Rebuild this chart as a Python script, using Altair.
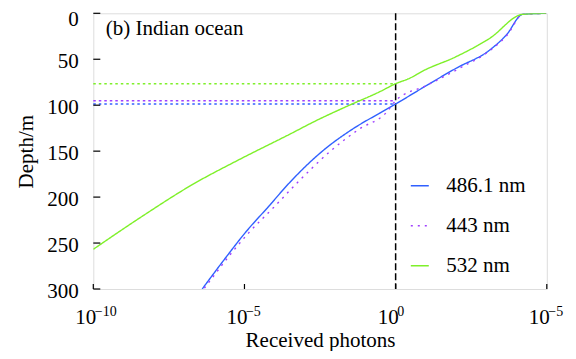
import altair as alt
import pandas as pd

FONT = "Liberation Serif"

series_names = ["486.1 nm", "443 nm", "532 nm"]
series_colors = ["#3060ff", "#a040ff", "#7ff02a"]

blue_depth = [0, 1.1, 23.6, 39.9, 59.8, 81.0, 98.7, 108.0, 125.9, 149.6, 183.8, 210.4, 238.9, 263.0, 300.0]
blue_photons = [9.5e4, 1.6e4, 4.6e3, 1.3e3, 1.0e2, 7.9, 1.0, 0.32, 3.8e-2, 3.9e-3, 3.2e-4, 6.2e-5, 1.05e-5, 2.8e-6, 4.0e-7]

purple_depth = [0, 1.1, 23.6, 39.9, 59.8, 78.5, 95.1, 108.0, 125.9, 149.6, 183.8, 210.4, 238.9, 263.0, 294.0, 300.0]
purple_photons = [9.5e4, 1.6e4, 4.9e3, 1.4e3, 1.3e2, 10.5, 1.0, 0.49, 6.3e-2, 7.2e-3, 5.8e-4, 9.8e-5, 1.38e-5, 3.3e-6, 6.2e-7, 4.5e-7]

green_depth = [0, 1.1, 27.2, 47.2, 62.8, 70.7, 76.6, 85.3, 101.6, 118.3, 130.6, 157.8, 186.8, 221.0, 256.8]
green_photons = [9.5e4, 1.6e4, 1.3e3, 1.0e2, 7.9, 2.9, 1.0, 0.30, 2.3e-2, 1.9e-3, 3.6e-4, 8.1e-6, 1.8e-7, 4.1e-9, 1.0e-10]

# depth where each curve reaches 1 photon (horizontal dotted guides)
threshold_depths = [98.7, 95.1, 76.6]
threshold_x_start = 1e-10
threshold_x_end = 1.0
vertical_line_x = [1.0]

x_tick_values = [1e-10, 1e-5, 1.0, 1e5]
x_tick_exponents = ["\u221210", "\u22125", "0", "\u22125"]
y_tick_values = [0, 50, 100, 150, 200, 250, 300]

annotation_text = ["(b) Indian ocean"]
annotation_x = [2.6e-10]
annotation_depth = [23.6]

W, H = 453.5, 275.7

rows = []
for name, ds, ps in [
    (series_names[0], blue_depth, blue_photons),
    (series_names[1], purple_depth, purple_photons),
    (series_names[2], green_depth, green_photons),
]:
    for i, (d, p) in enumerate(zip(ds, ps)):
        rows.append({"series": name, "depth": d, "photons": p, "idx": i})
curves = pd.DataFrame(rows)

thr = pd.DataFrame({
    "series": series_names,
    "depth": threshold_depths,
    "x1": [threshold_x_start] * 3,
    "x2": [threshold_x_end] * 3,
})

xscale = alt.Scale(type="log", domain=[1e-10, 1e5], nice=False)
yscale = alt.Scale(domain=[0, 300], reverse=True, nice=False)
cscale = alt.Scale(domain=series_names, range=series_colors)
dscale = alt.Scale(domain=series_names, range=[[1, 0], [2, 5], [1, 0]])

x_axis = alt.Axis(
    values=x_tick_values, labelExpr="'10'", ticks=False, domain=False, grid=False,
    labelFlush=False, labelOverlap=False, labelPadding=17, labelOffset=-8, labelFontSize=21,
    labelFont=FONT, labelColor="black", title="Received photons", titleFont=FONT,
    titleFontSize=21, titleFontWeight="normal", titleColor="black", titlePadding=2,
)
y_axis = alt.Axis(
    values=y_tick_values, ticks=False, domain=False, grid=False, labelPadding=15,
    labelOffset={"condition": {"test": "datum.value == 0", "value": 6.2}, "value": 2.5},
    labelFontSize=21, labelFont=FONT, labelColor="black", title="Depth/m",
    titleFont=FONT, titleFontSize=21, titleFontWeight="normal", titleColor="black",
    titlePadding=10,
)

legend = alt.Legend(
    title=None, orient="none", legendX=316, legendY=162, padding=0,
    symbolType="stroke", symbolSize=324, symbolStrokeWidth=1.5,
    labelFont=FONT, labelFontSize=21, labelColor="black", labelOffset=16,
    rowPadding=18, labelLimit=200,
)

lines = alt.Chart(curves).mark_line(strokeWidth=1.4, clip=True, interpolate="monotone").encode(
    x=alt.X("photons:Q", scale=xscale, axis=x_axis),
    y=alt.Y("depth:Q", scale=yscale, axis=y_axis),
    color=alt.Color("series:N", scale=cscale, legend=legend),
    strokeDash=alt.StrokeDash("series:N", scale=dscale, legend=legend),
    order=alt.Order("idx:Q"),
    detail="series:N",
)

guides = alt.Chart(thr).mark_rule(strokeWidth=1.4, strokeDash=[2.5, 3]).encode(
    x=alt.X("x1:Q", scale=xscale),
    x2="x2:Q",
    y=alt.Y("depth:Q", scale=yscale),
    color=alt.Color("series:N", scale=cscale),
)

vline = alt.Chart(pd.DataFrame({"x": vertical_line_x})).mark_rule(
    color="black", strokeWidth=1.5, strokeDash=[7, 3]
).encode(x=alt.X("x:Q", scale=xscale))

xticks = alt.Chart(pd.DataFrame({"x": x_tick_values})).mark_rule(
    color="black", strokeWidth=1.2
).encode(x=alt.X("x:Q", scale=xscale), y=alt.value(H), y2=alt.value(H - 5))

yticks = alt.Chart(pd.DataFrame({"d": y_tick_values})).mark_rule(
    color="black", strokeWidth=1.2
).encode(y=alt.Y("d:Q", scale=yscale), x=alt.value(0), x2=alt.value(7))

xexp = alt.Chart(pd.DataFrame({"x": x_tick_values, "e": x_tick_exponents})).mark_text(
    align="left", baseline="middle", font=FONT, fontSize=14, color="black", dx=1.5
).encode(x=alt.X("x:Q", scale=xscale), y=alt.value(H + 22.5), text="e:N")

ann = alt.Chart(pd.DataFrame({"t": annotation_text, "x": annotation_x, "d": annotation_depth})).mark_text(
    align="left", baseline="alphabetic", font=FONT, fontSize=21, color="black"
).encode(x=alt.X("x:Q", scale=xscale), y=alt.Y("d:Q", scale=yscale), text="t:N")

chart = alt.layer(guides, vline, lines, xticks, yticks, xexp, ann).resolve_scale(
    color="shared", strokeDash="shared"
).properties(
    width=W, height=H,
    autosize=alt.AutoSizeParams(type="none"),
    padding={"left": 85.3, "top": 5.3, "right": 21.2, "bottom": 62},
).configure_view(stroke="black", strokeWidth=1.6).configure(background="white")

chart.save("out.html", embed_options={"renderer": "svg", "actions": False})
